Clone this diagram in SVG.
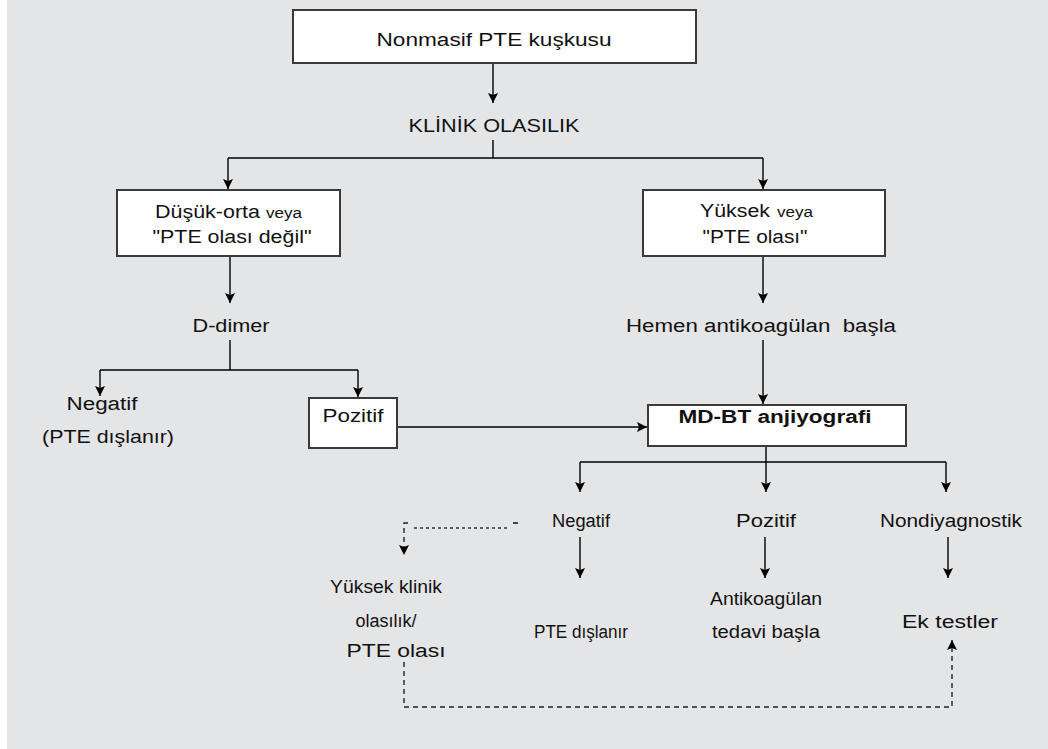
<svg xmlns="http://www.w3.org/2000/svg" width="1048" height="749" viewBox="0 0 1048 749">
  <defs>
    <marker id="arrow" viewBox="0 0 10 10" refX="10" refY="5" markerWidth="10" markerHeight="10" markerUnits="userSpaceOnUse" orient="auto">
      <path d="M0,0 L10,5 L0,10 L2,5 Z" fill="#000"/>
    </marker>
    <style>
      .box { fill: #ffffff; stroke: #3a3a3a; stroke-width: 2; }
      .line { fill: none; stroke: #000; stroke-width: 1.4; }
      .dash { fill: none; stroke: #222; stroke-width: 1.4; stroke-dasharray: 5 4; }
      .dot { fill: none; stroke: #333; stroke-width: 1.4; stroke-dasharray: 3 3; }
      text { font-family: "Liberation Sans", Arial, sans-serif; font-size: 18px; fill: #111; white-space: pre; }
      .c { text-anchor: middle; }
      .small { font-size: 14px; }
      .bold { font-weight: bold; }
    </style>
  </defs>

  <!-- page -->
  <rect x="0" y="0" width="1048" height="749" fill="#ffffff"/>
  <rect x="7" y="0" width="1041" height="749" fill="#e4e5e7"/>

  <!-- connectors -->
  <g id="connectors">
    <path class="line" d="M493,63 V103" marker-end="url(#arrow)"/>
    <path class="line" d="M493,140 V158 M228,158 H763"/>
    <path class="line" d="M228,158 V189" marker-end="url(#arrow)"/>
    <path class="line" d="M763,158 V189" marker-end="url(#arrow)"/>
    <path class="line" d="M230,256 V303" marker-end="url(#arrow)"/>
    <path class="line" d="M230,340 V370 M100,370 H358"/>
    <path class="line" d="M100,370 V396" marker-end="url(#arrow)"/>
    <path class="line" d="M358,370 V397" marker-end="url(#arrow)"/>
    <path class="line" d="M397,427 H647" marker-end="url(#arrow)"/>
    <path class="line" d="M763,256 V303" marker-end="url(#arrow)"/>
    <path class="line" d="M763,340 V404" marker-end="url(#arrow)"/>
    <path class="line" d="M766,446 V462 M580,462 H946"/>
    <path class="line" d="M580,462 V492" marker-end="url(#arrow)"/>
    <path class="line" d="M766,462 V492" marker-end="url(#arrow)"/>
    <path class="line" d="M946,462 V492" marker-end="url(#arrow)"/>
    <path class="line" d="M580,537 V578" marker-end="url(#arrow)"/>
    <path class="line" d="M765,537 V578" marker-end="url(#arrow)"/>
    <path class="line" d="M948,537 V578" marker-end="url(#arrow)"/>
    <!-- dashed return path -->
    <path class="dot" d="M414,528 H508"/>
    <path class="line" d="M513,523 H518"/>
    <path class="dash" d="M408,523 H404 V555" marker-end="url(#arrow)"/>
    <path class="dash" d="M404,662 V707 H952 V640" marker-end="url(#arrow)"/>
  </g>

  <g id="n-suspicion">
    <rect class="box" x="293" y="10" width="403" height="53"/>
    <text x="494" y="46" class="c" textLength="235" lengthAdjust="spacingAndGlyphs">Nonmasif PTE kuşkusu</text>
  </g>

  <g id="n-clinical">
    <text x="494" y="132" class="c" textLength="171" lengthAdjust="spacingAndGlyphs">KLİNİK OLASILIK</text>
  </g>

  <g id="n-low">
    <rect class="box" x="117" y="190" width="223" height="66"/>
    <text x="155" y="218" textLength="105" lengthAdjust="spacingAndGlyphs">Düşük-orta</text>
    <text x="266" y="218" class="small" textLength="36" lengthAdjust="spacingAndGlyphs">veya</text>
    <text x="232" y="243" class="c" textLength="159" lengthAdjust="spacingAndGlyphs">"PTE olası değil"</text>
  </g>

  <g id="n-high">
    <rect class="box" x="643" y="190" width="242" height="66"/>
    <text x="700" y="217" textLength="70" lengthAdjust="spacingAndGlyphs">Yüksek</text>
    <text x="777" y="217" class="small" textLength="36" lengthAdjust="spacingAndGlyphs">veya</text>
    <text x="755" y="243" class="c" textLength="105" lengthAdjust="spacingAndGlyphs">"PTE olası"</text>
  </g>

  <g id="n-ddimer">
    <text x="231" y="332" class="c" textLength="77" lengthAdjust="spacingAndGlyphs">D-dimer</text>
  </g>

  <g id="n-anticoag-start">
    <text x="761" y="332" class="c" textLength="270" lengthAdjust="spacingAndGlyphs">Hemen antikoagülan  başla</text>
  </g>

  <g id="n-dd-negative">
    <text x="102" y="410" class="c" textLength="71" lengthAdjust="spacingAndGlyphs">Negatif</text>
    <text x="108" y="443" class="c" textLength="132" lengthAdjust="spacingAndGlyphs">(PTE dışlanır)</text>
  </g>

  <g id="n-dd-positive">
    <rect class="box" x="309" y="398" width="88" height="50"/>
    <text x="353" y="422" class="c" textLength="61" lengthAdjust="spacingAndGlyphs">Pozitif</text>
  </g>

  <g id="n-ctpa">
    <rect class="box" x="648" y="405" width="258" height="41"/>
    <text x="775" y="423" class="c bold" textLength="193" lengthAdjust="spacingAndGlyphs">MD-BT anjiyografi</text>
  </g>

  <g id="n-ct-negative">
    <text x="581" y="527" class="c" textLength="58" lengthAdjust="spacingAndGlyphs">Negatif</text>
  </g>
  <g id="n-ct-positive">
    <text x="766" y="527" class="c" textLength="60" lengthAdjust="spacingAndGlyphs">Pozitif</text>
  </g>
  <g id="n-ct-nondiag">
    <text x="951" y="527" class="c" textLength="142" lengthAdjust="spacingAndGlyphs">Nondiyagnostik</text>
  </g>

  <g id="n-high-prob">
    <text x="386" y="593" class="c" textLength="112" lengthAdjust="spacingAndGlyphs">Yüksek klinik</text>
    <text x="386" y="627" class="c" textLength="61" lengthAdjust="spacingAndGlyphs">olasılık/</text>
    <text x="396" y="657" class="c" textLength="99" lengthAdjust="spacingAndGlyphs">PTE olası</text>
  </g>

  <g id="n-excluded">
    <text x="581" y="638" class="c" textLength="94" lengthAdjust="spacingAndGlyphs">PTE dışlanır</text>
  </g>

  <g id="n-treat">
    <text x="766" y="605" class="c" textLength="112" lengthAdjust="spacingAndGlyphs">Antikoagülan</text>
    <text x="766" y="638" class="c" textLength="108" lengthAdjust="spacingAndGlyphs">tedavi başla</text>
  </g>

  <g id="n-more-tests">
    <text x="950" y="628" class="c" textLength="96" lengthAdjust="spacingAndGlyphs">Ek testler</text>
  </g>
</svg>
